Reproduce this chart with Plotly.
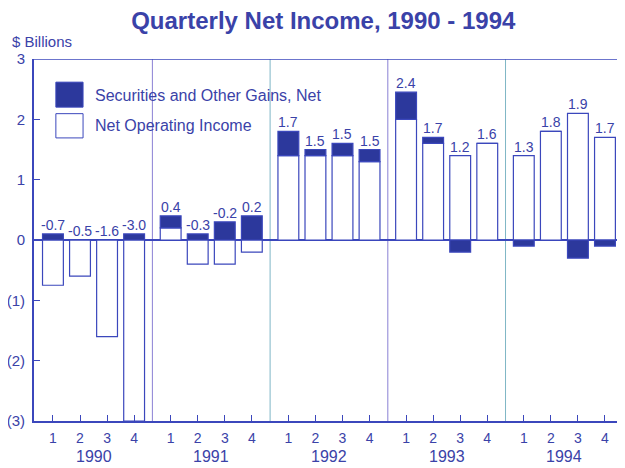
import plotly.graph_objects as go

years = ["1990", "1991", "1992", "1993", "1994"]
quarters = ["1", "2", "3", "4"]

# net operating income by quarter, $ billions
operating = [
    -0.75, -0.6, -1.6, -3.0,
    0.2, -0.4, -0.4, -0.2,
    1.4, 1.4, 1.4, 1.3,
    2.0, 1.6, 1.4, 1.6,
    1.4, 1.8, 2.1, 1.7,
]
# securities and other gains, net
gains = [
    0.1, 0.0, 0.0, 0.1,
    0.2, 0.1, 0.3, 0.4,
    0.4, 0.1, 0.2, 0.2,
    0.45, 0.1, -0.2, 0.0,
    -0.1, 0.0, -0.3, -0.1,
]
# printed net income labels
net_labels = [
    "-0.7", "-0.5", "-1.6", "-3.0",
    "0.4", "-0.3", "-0.2", "0.2",
    "1.7", "1.5", "1.5", "1.5",
    "2.4", "1.7", "1.2", "1.6",
    "1.3", "1.8", "1.9", "1.7",
]

BLUE = "#3a42a8"
DARK = "#2c389c"
EDGE = "#3b47bc"
FONT = "Liberation Sans, Arial, Helvetica, sans-serif"
YEAR_STEP = 4.35

xpos = [yi * YEAR_STEP + qi for yi in range(len(years)) for qi in range(len(quarters))]

fig = go.Figure()

fig.add_trace(
    go.Bar(
        x=xpos,
        y=operating,
        width=0.77,
        marker=dict(color="white", line=dict(color=EDGE, width=1.2)),
        name="Net Operating Income",
        showlegend=False,
    )
)
fig.add_trace(
    go.Bar(
        x=xpos,
        y=gains,
        width=0.77,
        marker=dict(color=DARK, line=dict(color=EDGE, width=1.2)),
        name="Securities and Other Gains, Net",
        showlegend=False,
    )
)

annotations = []
for x, op, g, lab in zip(xpos, operating, gains, net_labels):
    top = max(op, 0) + max(g, 0)
    annotations.append(dict(x=x, y=top, xref="x", yref="y", text=lab, showarrow=False,
                            yanchor="bottom", yshift=-1, font=dict(size=14, color=BLUE)))

for yi, yr in enumerate(years):
    annotations.append(dict(x=yi * YEAR_STEP + 1.5, y=-0.098, xref="x", yref="paper",
                            text=yr, showarrow=False, yanchor="middle",
                            font=dict(size=16, color=BLUE)))

annotations.append(dict(x=-0.041, y=1.047, xref="paper", yref="paper", text="$ Billions",
                        showarrow=False, xanchor="left", yanchor="middle",
                        font=dict(size=15, color=BLUE)))
annotations.append(dict(x=0.1, y=0.9, xref="paper", yref="paper",
                        text="Securities and Other Gains, Net", showarrow=False,
                        xanchor="left", yanchor="middle", font=dict(size=16, color=BLUE)))
annotations.append(dict(x=0.1, y=0.817, xref="paper", yref="paper",
                        text="Net Operating Income", showarrow=False,
                        xanchor="left", yanchor="middle", font=dict(size=16, color=BLUE)))

shapes = [
    # top border
    dict(type="line", xref="paper", yref="y", x0=0, x1=1, y0=3, y1=3,
         line=dict(color=EDGE, width=1.5)),
    # legend swatches
    dict(type="rect", xref="paper", yref="paper", x0=0.037, x1=0.083, y0=0.867, y1=0.936,
         fillcolor=DARK, line=dict(color=EDGE, width=1)),
    dict(type="rect", xref="paper", yref="paper", x0=0.037, x1=0.083, y0=0.782, y1=0.849,
         fillcolor="white", line=dict(color=EDGE, width=1)),
]
sep_colors = ["#8a80d4", "#7fb6c6", "#8a80d4", "#7fb6c6"]
for yi in range(len(years) - 1):
    sx = yi * YEAR_STEP + 3.675
    shapes.append(dict(type="line", xref="x", yref="paper", x0=sx, x1=sx, y0=0, y1=1,
                       layer="below", line=dict(color=sep_colors[yi], width=1)))

# page body adds an 8px margin, so the figure is 8px smaller than the window
fig.update_layout(
    width=617,
    height=460,
    margin=dict(l=26, r=0, t=51, b=47),
    paper_bgcolor="white",
    plot_bgcolor="white",
    barmode="relative",
    font=dict(family=FONT, color=BLUE, size=13),
    title=dict(text="<b>Quarterly Net Income, 1990 - 1994</b>", x=0.511, xanchor="center",
               y=0.972, yanchor="middle", font=dict(size=24, color=BLUE, family=FONT)),
    xaxis=dict(
        range=[-0.70, 21.14],
        tickvals=xpos,
        ticktext=quarters * len(years),
        ticks="inside",
        ticklen=6,
        tickcolor=EDGE,
        showline=True,
        linecolor=EDGE,
        linewidth=2,
        showgrid=False,
        zeroline=False,
        ticklabelstandoff=3,
        tickfont=dict(size=14, color=BLUE),
    ),
    yaxis=dict(
        range=[-3, 3],
        tickvals=[-3, -2, -1, 0, 1, 2, 3],
        ticktext=["(3)", "(2)", "(1)", "0", "1", "2", "3"],
        ticks="inside",
        ticklen=6,
        tickcolor=EDGE,
        showline=True,
        linecolor=EDGE,
        linewidth=2,
        showgrid=False,
        zeroline=True,
        zerolinecolor=EDGE,
        zerolinewidth=1.5,
        ticklabelstandoff=4,
        tickfont=dict(size=15, color=BLUE),
    ),
    annotations=annotations,
    shapes=shapes,
    showlegend=False,
)

fig.write_html("out.html")
